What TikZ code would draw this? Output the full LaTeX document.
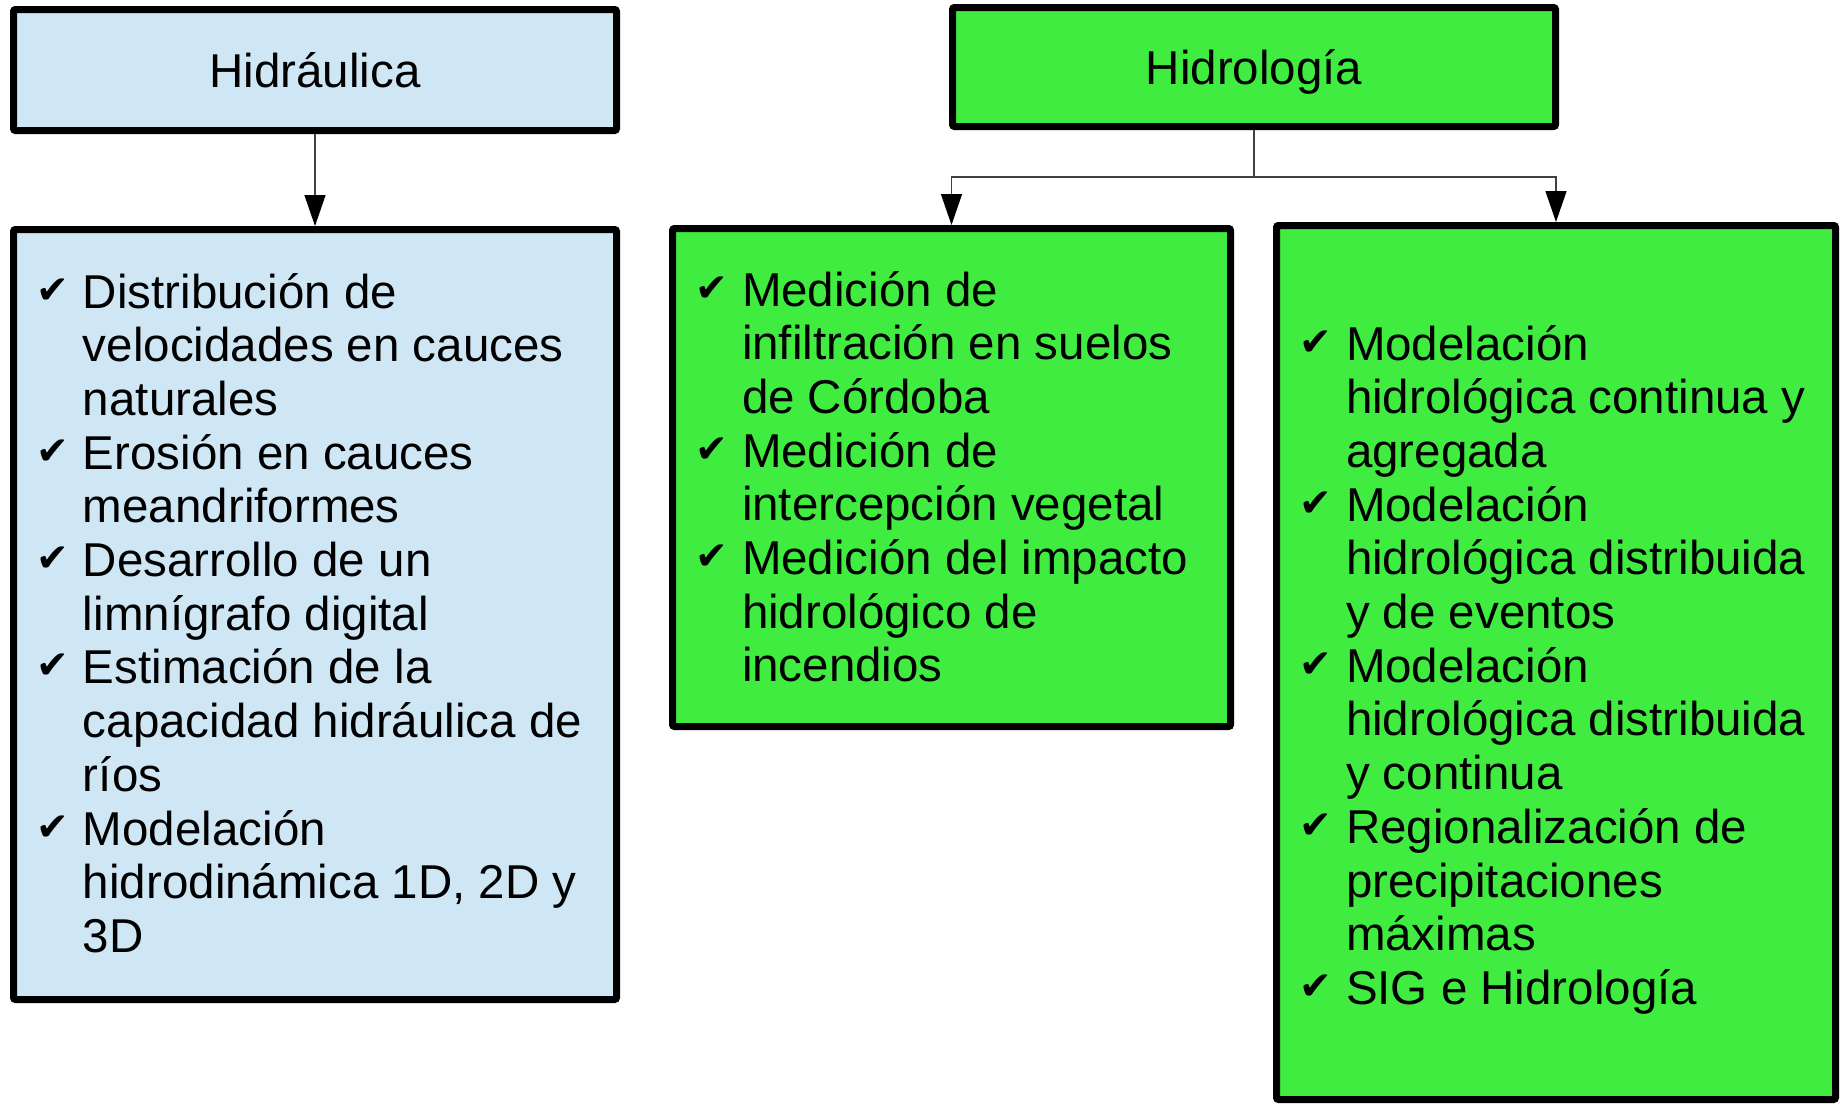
\documentclass[tikz,border=0pt]{standalone}
\usepackage{fontspec}
\setmainfont{Liberation Sans}
\newfontfamily\dejavu{DejaVu Sans}
\usetikzlibrary{arrows.meta}
\definecolor{lblue}{RGB}{207,231,245}
\definecolor{lgreen}{RGB}{64,236,64}
\newcommand\itemchk{\makebox[47pt][l]{\raisebox{5pt}{\dejavu\fontsize{39pt}{39pt}\selectfont ✔}}}
\newcommand\itemcont{\hspace*{47pt}}
\newcommand\listfont{\fontsize{47.5pt}{53.7pt}\selectfont\lineskiplimit=-100pt\relax}
\tikzset{
  boxshape/.style={draw=black, line width=7pt, rounded corners=2pt, inner sep=0pt, outer sep=3.5pt},
  titlebox/.style={boxshape, font=\fontsize{47.5pt}{53.7pt}\selectfont, text height=34pt, text depth=0pt},
  listtext/.style={anchor=base west, inner sep=0pt, outer sep=0pt, align=left},
  conn/.style={draw=black!75, line width=1.3pt, -{Triangle[length=31pt,width=21pt,color=black]}},
  connplain/.style={draw=black!75, line width=1.3pt}
}
\begin{document}
\begin{tikzpicture}[x=1pt,y=-1pt]
\useasboundingbox (0,0) rectangle (1840,1104);

% title boxes
\node[titlebox, fill=lblue, minimum width=603pt, minimum height=121pt] (hidraulica) at (315,70) {Hidráulica};
\node[titlebox, fill=lgreen, minimum width=603pt, minimum height=119pt] (hidrologia) at (1254,67) {Hidrología};

% list boxes
\node[boxshape, fill=lblue, minimum width=603pt, minimum height=770pt] (hlist) at (315,614.5) {};
\node[boxshape, fill=lgreen, minimum width=558pt, minimum height=498pt] (midlist) at (951.5,477.5) {};
\node[boxshape, fill=lgreen, minimum width=559pt, minimum height=874pt] (rightlist) at (1556,662.5) {};

% list texts
\node[listtext] (htext) at (36,308) {\parbox[t]{590pt}{\listfont
\itemchk Distribución de\\
\itemcont velocidades en cauces\\
\itemcont naturales\\
\itemchk Erosión en cauces\\
\itemcont meandriformes\\
\itemchk Desarrollo de un\\
\itemcont limnígrafo digital\\
\itemchk Estimación de la\\
\itemcont capacidad hidráulica de\\
\itemcont ríos\\
\itemchk Modelación\\
\itemcont hidrodinámica 1D, 2D y\\
\itemcont 3D}};

\node[listtext] (mtext) at (695,306) {\parbox[t]{540pt}{\listfont
\itemchk Medición de\\
\itemcont infiltración en suelos\\
\itemcont de Córdoba\\
\itemchk Medición de\\
\itemcont intercepción vegetal\\
\itemchk Medición del impacto\\
\itemcont hidrológico de\\
\itemcont incendios}};

\node[listtext] (rtext) at (1299,360) {\parbox[t]{540pt}{\listfont
\itemchk Modelación\\
\itemcont hidrológica continua y\\
\itemcont agregada\\
\itemchk Modelación\\
\itemcont hidrológica distribuida\\
\itemcont y de eventos\\
\itemchk Modelación\\
\itemcont hidrológica distribuida\\
\itemcont y continua\\
\itemchk Regionalización de\\
\itemcont precipitaciones\\
\itemcont máximas\\
\itemchk SIG e Hidrología}};

% connectors
\draw[conn] (hidraulica.south) -- (hlist.north);
\coordinate (split) at (1254,177);
\draw[connplain] (hidrologia.south) -- (split);
\draw[conn] (split) -| (midlist.north);
\draw[conn] (split) -| (rightlist.north);
\end{tikzpicture}
\end{document}
